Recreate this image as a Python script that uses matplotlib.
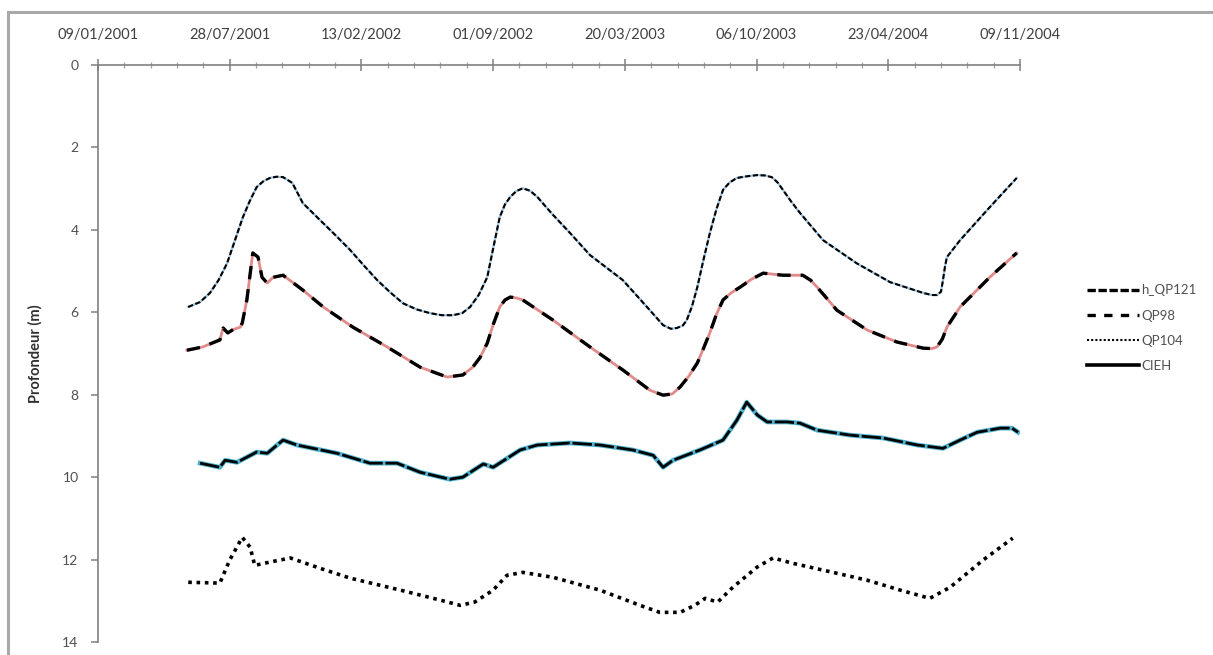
import numpy as np
import pandas as pd
import matplotlib
matplotlib.use("Agg")
import matplotlib.pyplot as plt
import matplotlib.dates as mdates
from matplotlib.lines import Line2D
from matplotlib.patches import Rectangle

plt.rcParams['font.family'] = ['Lato', 'DejaVu Sans']

# origine des dates (jours comptés depuis le 09/01/2001)
t0 = pd.Timestamp('2001-01-09')

# h_QP121
j_qp121 = [137, 155, 170, 183, 196, 208, 220, 231, 241, 251, 261, 271, 281, 295, 311, 337, 360, 383, 404,
           424, 444, 463, 484, 504, 522, 539, 553, 565, 578, 591, 600, 610, 618, 626, 635, 645, 656, 667,
           690, 717, 747, 797, 838, 858, 870, 879, 888, 894, 902, 910, 919, 929, 939, 949, 959, 970, 985,
           1001, 1013, 1023, 1032, 1040, 1052, 1066, 1101, 1152, 1203, 1253, 1266, 1274, 1280, 1283, 1286,
           1289, 1309, 1354, 1395]
p_qp121 = [5.87, 5.75, 5.53, 5.22, 4.81, 4.25, 3.69, 3.28, 2.96, 2.82, 2.74, 2.71, 2.72, 2.86, 3.35, 3.76, 4.12, 4.49, 4.87,
           5.22, 5.52, 5.78, 5.93, 6.02, 6.07, 6.07, 6.02, 5.87, 5.58, 5.15, 4.45, 3.69, 3.38, 3.20, 3.06, 2.99, 3.05, 3.20,
           3.62, 4.08, 4.61, 5.22, 5.95, 6.31, 6.40, 6.38, 6.32, 6.19, 5.85, 5.39, 4.75, 4.08, 3.50, 3.03, 2.85, 2.74, 2.70,
           2.67, 2.68, 2.72, 2.85, 3.03, 3.30, 3.59, 4.25, 4.81, 5.27, 5.53, 5.58, 5.58, 5.50, 5.22, 4.90,
           4.66, 4.25, 3.45, 2.74]

# QP98
j_qp98 = [135, 159, 185, 190, 197, 205, 216, 219, 226, 235, 243, 249, 257, 266, 281, 311, 342, 387,
          439, 489, 530, 554, 569, 580, 591, 600, 610, 618, 626, 635, 645, 691, 747, 797, 838, 858, 872,
          884, 897, 910, 920, 929, 939, 949, 962, 975, 992, 1010, 1040, 1070, 1082, 1092, 1106, 1122, 1168,
          1213, 1253, 1266, 1274, 1282, 1289, 1309, 1354, 1395]
p_qp98 = [6.92, 6.84, 6.67, 6.38, 6.50, 6.42, 6.36, 6.26, 5.70, 4.56, 4.66, 5.15, 5.29, 5.15, 5.10, 5.46, 5.87, 6.36,
          6.84, 7.33, 7.57, 7.52, 7.33, 7.10, 6.75, 6.30, 5.87, 5.70, 5.63, 5.65, 5.70, 6.19, 6.84, 7.40, 7.89, 8.01, 7.98,
          7.81, 7.55, 7.23, 6.85, 6.50, 6.05, 5.70, 5.52, 5.39, 5.20, 5.05, 5.10, 5.10, 5.22, 5.39, 5.65, 5.95, 6.43,
          6.72, 6.87, 6.88, 6.84, 6.65, 6.36, 5.87, 5.15, 4.56]

# QP104
j_qp104 = [137, 185, 200, 219, 231, 238, 261, 292, 337, 383, 459, 519, 550, 572, 600, 621, 645, 691,
           762, 823, 853, 884, 906, 922, 941, 964, 1001, 1025, 1055, 1116, 1168, 1218, 1263, 1294, 1344, 1389]
p_qp104 = [12.55, 12.57, 12.01, 11.46, 11.70, 12.14, 12.06, 11.96, 12.21, 12.45, 12.74, 12.98, 13.11, 13.03, 12.74, 12.38, 12.31, 12.43,
           12.74, 13.11, 13.28, 13.28, 13.11, 12.94, 13.03, 12.67, 12.18, 11.96, 12.09, 12.31, 12.50, 12.74, 12.94, 12.67, 12.01, 11.48]

# CIEH
j_cieh = [155, 185, 193, 211, 241, 257, 281, 302, 363, 413, 454, 489, 534, 554, 585, 600, 641, 667,
          717, 762, 812, 843, 858, 873, 914, 949, 970, 985, 1001, 1016, 1046, 1066, 1092, 1142, 1192,
          1244, 1283, 1309, 1335, 1370, 1388, 1397]
p_cieh = [9.66, 9.76, 9.59, 9.64, 9.39, 9.42, 9.10, 9.22, 9.42, 9.66, 9.66, 9.88, 10.05, 10.00, 9.68, 9.76, 9.34, 9.22,
          9.17, 9.22, 9.34, 9.47, 9.76, 9.59, 9.34, 9.10, 8.62, 8.18, 8.49, 8.66, 8.66, 8.69, 8.86, 8.98, 9.05,
          9.22, 9.30, 9.10, 8.91, 8.81, 8.81, 8.91]

noms = ['h_QP121', 'QP98', 'QP104', 'CIEH']


def dates(j):
    return t0 + pd.to_timedelta(j, unit='D')


fig = plt.figure(figsize=(12.13, 6.55), dpi=100)
ax = fig.add_axes([0.0808, 0.0198, 0.7601, 0.8809])

# cadre gris du graphique (style Excel), ouvert à droite et en bas
fig.patches.append(Rectangle((8 / 1213, -0.1), 1.5, 1.1 - 12 / 655,
                             transform=fig.transFigure, fill=False,
                             edgecolor='#a8a8a8', lw=2.2, zorder=0))

# h_QP121 : fin tireté noir sur bleu clair
ax.plot(dates(j_qp121), p_qp121, color='#9cc3e0', lw=1.6, zorder=2)
ax.plot(dates(j_qp121), p_qp121, color='black', lw=1.5, dashes=(2.5, 1.2), zorder=3)

# QP98 : tireté épais sur rose
ax.plot(dates(j_qp98), p_qp98, color='#e08a8a', lw=2.0, zorder=2)
ax.plot(dates(j_qp98), p_qp98, color='black', lw=2.4, dashes=(4, 3), zorder=3)

# QP104 : pointillé
ax.plot(dates(j_qp104), p_qp104, color='black', lw=2.6, dashes=(1, 1.3), zorder=3)

# CIEH : trait plein noir sur bleu
ax.plot(dates(j_cieh), p_cieh, color='#4fb3cf', lw=3.4, zorder=4)
ax.plot(dates(j_cieh), p_cieh, color='black', lw=2.0, dashes=(7, 1), zorder=5)

ax.set_xlim(t0, t0 + pd.Timedelta(days=1400))
ax.set_ylim(14, 0)

ax.xaxis.tick_top()
ax.set_xticks(pd.date_range(t0, periods=8, freq='200D'))
ax.set_xticks(pd.date_range(t0, periods=36, freq='40D'), minor=True)
ax.xaxis.set_major_formatter(mdates.DateFormatter('%d/%m/%Y'))
ax.set_yticks(np.arange(0, 15, 2))

for s in ['right', 'bottom']:
    ax.spines[s].set_visible(False)
for s in ['left', 'top']:
    ax.spines[s].set_color('#808080')
    ax.spines[s].set_linewidth(1.2)

ax.tick_params(axis='x', which='major', direction='inout', length=9, width=1.1,
               color='#808080', labelsize=10.5, labelcolor='#404040', pad=12)
ax.tick_params(axis='x', which='minor', direction='inout', length=4, width=0.9, color='#a0a0a0')
ax.tick_params(axis='y', direction='out', length=5, width=1.1, color='#808080',
               labelsize=10, labelcolor='#505050', pad=9)

ax.set_ylabel('Profondeur (m)', fontsize=10.5, fontweight='bold', color='#303030', labelpad=14)

poignees = [
    Line2D([], [], color='black', lw=2.4, dashes=(2.5, 0.8)),
    Line2D([], [], color='black', lw=2.4, dashes=(2.5, 2.5)),
    Line2D([], [], color='black', lw=1.5, dashes=(1, 1)),
    Line2D([], [], color='black', lw=2.6),
]
fig.legend(poignees, noms, loc='center left', bbox_to_anchor=(0.886, 0.499),
           frameon=False, fontsize=9.5, labelcolor='#505050', handlelength=4.0,
           handletextpad=0.15, labelspacing=1.0)

fig.savefig('out.png', dpi=100)
